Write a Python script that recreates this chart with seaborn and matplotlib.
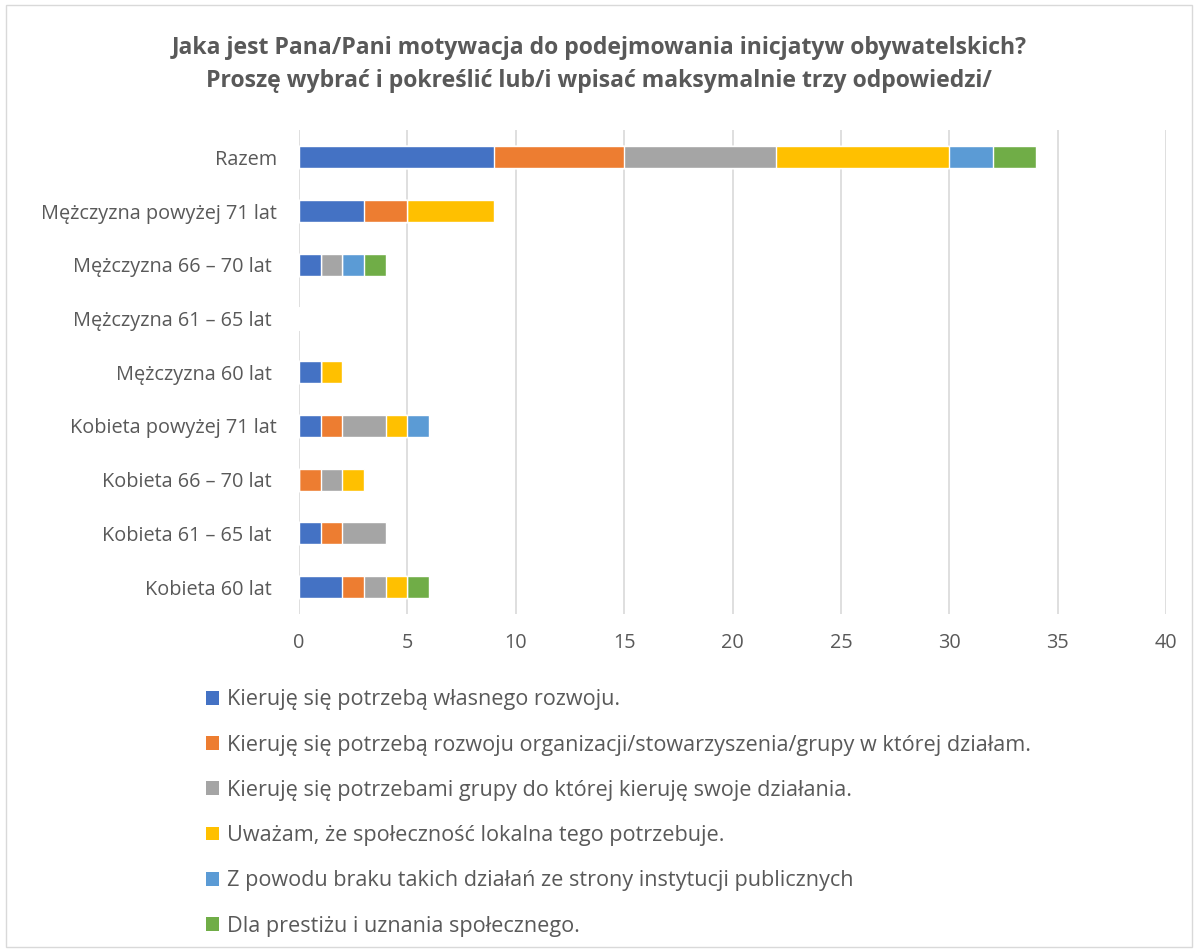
import numpy as np
import pandas as pd
import matplotlib
matplotlib.use("Agg")
import matplotlib.pyplot as plt
import seaborn as sns
from matplotlib.patches import Rectangle, Patch

categories = ["Razem", "Mężczyzna powyżej 71 lat", "Mężczyzna 66 – 70 lat ",
              "Mężczyzna 61 – 65 lat ", "Mężczyzna 60 lat ", "Kobieta powyżej 71 lat",
              "Kobieta 66 – 70 lat ", "Kobieta 61 – 65 lat ", "Kobieta 60 lat "]

series_names = [
    "Kieruję się potrzebą własnego rozwoju.",
    "Kieruję się potrzebą rozwoju organizacji/stowarzyszenia/grupy w której działam.",
    "Kieruję się potrzebami grupy do której kieruję swoje działania.",
    "Uważam, że społeczność lokalna tego potrzebuje.",
    "Z powodu braku takich działań ze strony instytucji publicznych",
    "Dla prestiżu i uznania społecznego.",
]

wlasny_rozwoj = [9, 3, 1, 0, 1, 1, 0, 1, 2]
rozwoj_organizacji = [6, 2, 0, 0, 0, 1, 1, 1, 1]
potrzeby_grupy = [7, 0, 1, 0, 0, 2, 1, 2, 1]
spolecznosc_lokalna = [8, 4, 0, 0, 1, 1, 1, 0, 1]
brak_dzialan = [2, 0, 1, 0, 0, 1, 0, 0, 0]
prestiz = [2, 0, 1, 0, 0, 0, 0, 0, 1]

colors = ["#4472C4", "#ED7D31", "#A5A5A5", "#FFC000", "#5B9BD5", "#70AD47"]
xticks = [0, 5, 10, 15, 20, 25, 30, 35, 40]

series = [wlasny_rozwoj, rozwoj_organizacji, potrzeby_grupy,
          spolecznosc_lokalna, brak_dzialan, prestiz]
cum = np.cumsum(np.array(series), axis=0)

sns.set_style("white")
plt.rcParams['font.family'] = ['Open Sans', 'DejaVu Sans']
text_col = "#595959"

fig = plt.figure(figsize=(11.98, 9.52), dpi=100)
ax = fig.add_axes([0.2496, 0.355, 0.7237, 0.508])

for i in range(len(series) - 1, -1, -1):
    df = pd.DataFrame({"cat": categories, "val": cum[i]})
    sns.barplot(data=df, y="cat", x="val", orient="h", color=colors[i],
                saturation=1, width=0.41, ax=ax, order=categories, zorder=3)

ax.set_xlim(0, 40)
ax.set_xticks(xticks)
ax.set_xticklabels([str(t) for t in xticks])
ax.set_xlabel("")
ax.set_ylabel("")
ax.grid(axis="x", color="#D9D9D9", linewidth=1.2, zorder=0)
ax.set_axisbelow(True)
for s in ax.spines.values():
    s.set_visible(False)
ax.tick_params(axis="both", length=0, labelsize=14.3, colors=text_col)
ax.tick_params(axis="y", pad=16)
ax.tick_params(axis="x", pad=14)

fig.text(0.5, 0.950, "Jaka jest Pana/Pani motywacja do podejmowania inicjatyw obywatelskich?",
         ha="center", va="center", fontsize=16.6, fontweight="bold", color=text_col)
fig.text(0.5, 0.915, "Proszę wybrać i pokreślić lub/i wpisać maksymalnie trzy odpowiedzi/",
         ha="center", va="center", fontsize=16.6, fontweight="bold", color=text_col)

handles = [Patch(facecolor=c, edgecolor="none") for c in colors]
fig.legend(handles, series_names, loc="upper left", bbox_to_anchor=(0.165, 0.285),
           frameon=False, fontsize=15.6, labelcolor=text_col, handlelength=0.6,
           handleheight=0.6, handletextpad=0.35, labelspacing=1.12, borderaxespad=0)

fig.patches.append(Rectangle((0.005, 0.005), 0.99, 0.99, transform=fig.transFigure,
                             fill=False, edgecolor="#D9D9D9", linewidth=1))

fig.savefig("out.png", dpi=100)
